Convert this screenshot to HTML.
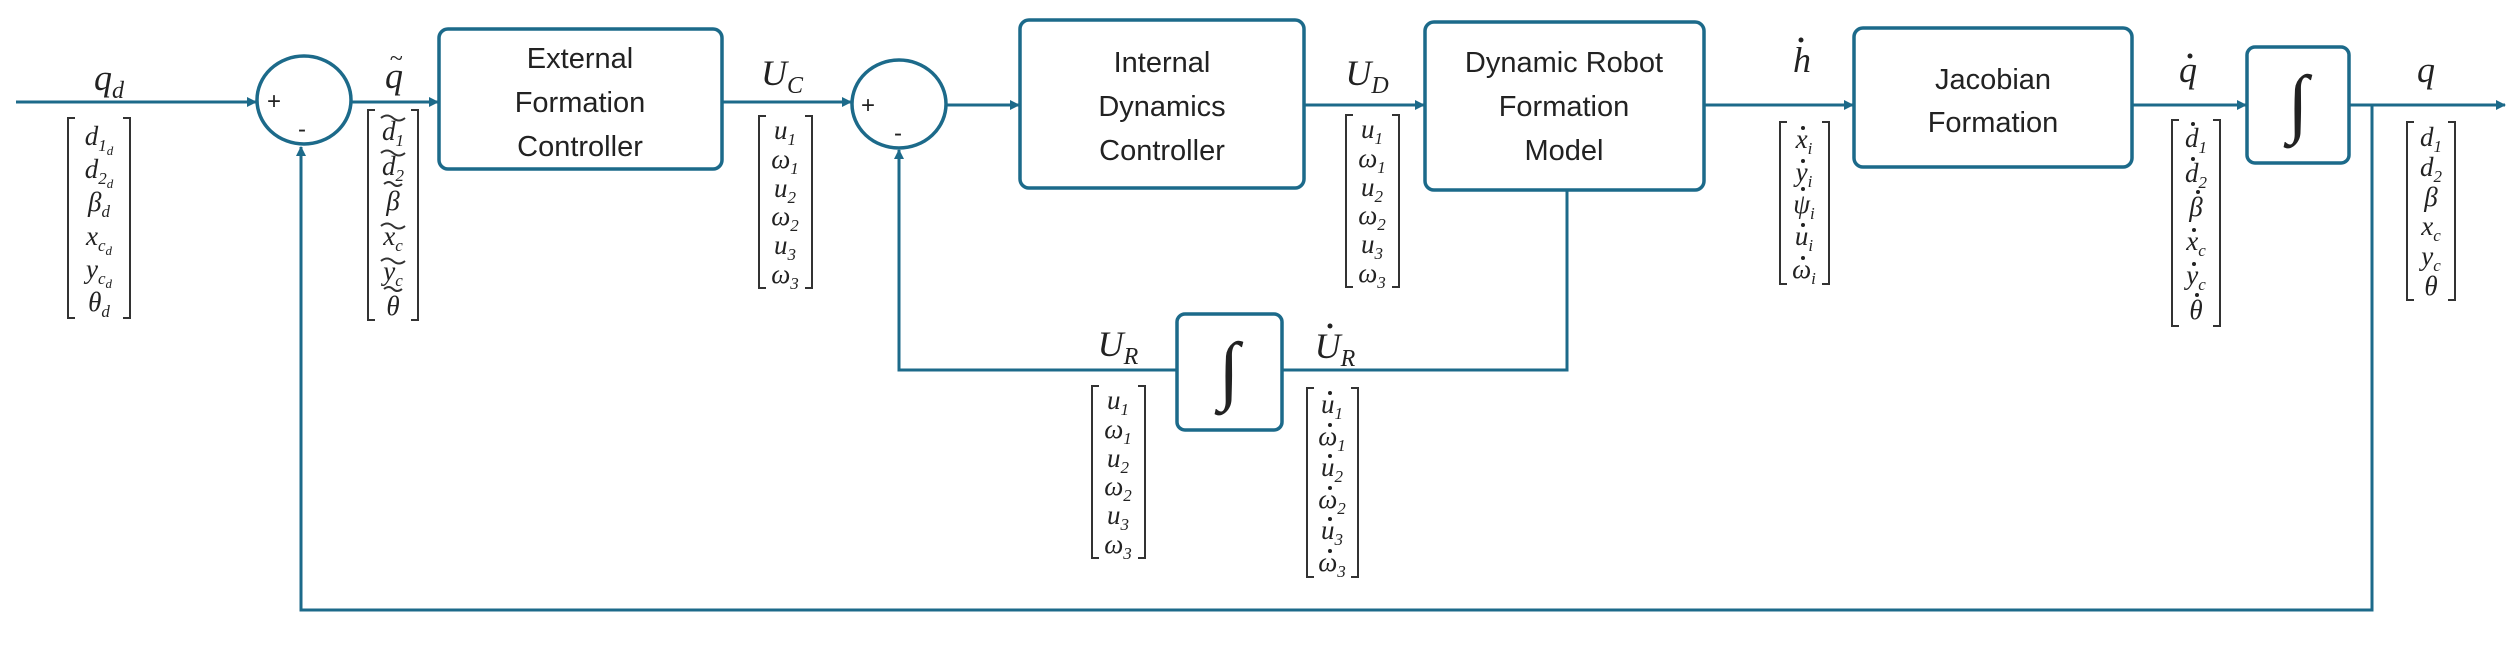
<!DOCTYPE html>
<html><head><meta charset="utf-8"><style>
html,body{margin:0;padding:0;background:#fff;}
svg{display:block;}
.m{font-family:"Liberation Serif","DejaVu Serif",serif;font-style:italic;font-size:27px;fill:#222;text-anchor:middle;}
.l{font-family:"Liberation Serif","DejaVu Serif",serif;font-style:italic;font-size:36px;fill:#222;text-anchor:middle;}
.b{font-family:"Liberation Sans","DejaVu Sans",sans-serif;font-size:29px;fill:#222;text-anchor:middle;}
.s{font-family:"Liberation Sans",sans-serif;font-size:24px;fill:#222;text-anchor:middle;}
.ln{stroke:#1c6a8a;stroke-width:3;fill:none;}
.bx{stroke:#1c6a8a;stroke-width:3.5;fill:#fff;}
.br{stroke:#333;stroke-width:2;fill:none;}
.d{fill:#222;}
</style></head><body>
<svg width="2515" height="653" viewBox="0 0 2515 653" xmlns="http://www.w3.org/2000/svg">
<defs><marker id="a" markerWidth="10" markerHeight="10" refX="9" refY="5" orient="auto" markerUnits="userSpaceOnUse"><path d="M0,0 L10,5 L0,10 z" fill="#1c6a8a"/></marker></defs>

<path class="ln" d="M16,102 H256" marker-end="url(#a)"/>
<path class="ln" d="M352,102 H438" marker-end="url(#a)"/>
<path class="ln" d="M722,102 H851" marker-end="url(#a)"/>
<path class="ln" d="M946,105 H1019" marker-end="url(#a)"/>
<path class="ln" d="M1304,105 H1424" marker-end="url(#a)"/>
<path class="ln" d="M1704,105 H1853" marker-end="url(#a)"/>
<path class="ln" d="M2132,105 H2246" marker-end="url(#a)"/>
<path class="ln" d="M2349,105 H2505" marker-end="url(#a)"/>
<path class="ln" d="M2372,105 V610 H301 V147" marker-end="url(#a)"/>
<path class="ln" d="M1567,190 V370 H1282"/>
<path class="ln" d="M1177,370 H899 V150" marker-end="url(#a)"/>

<ellipse class="bx" cx="304" cy="100" rx="47" ry="44"/>
<text class="s" x="274" y="109">+</text><text class="s" x="302" y="137">-</text>
<ellipse class="bx" cx="899" cy="104" rx="47" ry="44"/>
<text class="s" x="868" y="113">+</text><text class="s" x="898" y="141">-</text>

<rect class="bx" x="439" y="29" width="283" height="140" rx="9"/>
<text class="b" x="580" y="68">External</text><text class="b" x="580" y="112">Formation</text><text class="b" x="580" y="156">Controller</text>
<rect class="bx" x="1020" y="20" width="284" height="168" rx="9"/>
<text class="b" x="1162" y="72">Internal</text><text class="b" x="1162" y="116">Dynamics</text><text class="b" x="1162" y="160">Controller</text>
<rect class="bx" x="1425" y="22" width="279" height="168" rx="9"/>
<text class="b" x="1564" y="72">Dynamic Robot</text><text class="b" x="1564" y="116">Formation</text><text class="b" x="1564" y="160">Model</text>
<rect class="bx" x="1854" y="28" width="278" height="139" rx="9"/>
<text class="b" x="1993" y="89">Jacobian</text><text class="b" x="1993" y="132">Formation</text>
<rect class="bx" x="1177" y="314" width="105" height="116" rx="8"/>
<text class="l" x="1229" y="395" style="font-size:76px;font-style:normal">∫</text>
<rect class="bx" x="2247" y="47" width="102" height="116" rx="8"/>
<text class="l" x="2298" y="128" style="font-size:76px;font-style:normal">∫</text>

<text class="l" x="109" y="90">q<tspan font-size="24" dy="8">d</tspan></text>
<text class="l" x="394" y="88">q</text><text class="l" x="396" y="66" style="font-size:24px">~</text>
<text class="l" x="782" y="85">U<tspan font-size="24" dy="8">C</tspan></text>
<text class="l" x="1367" y="85">U<tspan font-size="24" dy="8">D</tspan></text>
<text class="l" x="1118" y="356">U<tspan font-size="24" dy="8">R</tspan></text>
<text class="l" x="1335" y="358">U<tspan font-size="24" dy="8">R</tspan></text><circle class="d" cx="1330" cy="326" r="2.5"/>
<text class="l" x="1802" y="72">h</text><circle class="d" cx="1801" cy="40" r="2.5"/>
<text class="l" x="2188" y="82">q</text><circle class="d" cx="2190" cy="56" r="2.5"/>
<text class="l" x="2426" y="82">q</text>

<g>
<path class="br" d="M75,118 H68 V318 H75 M123,118 H130 V318 H123"/>
<text class="m" x="99" y="145">d<tspan font-size="17" dy="6">1</tspan><tspan font-size="13" dy="4">d</tspan></text>
<text class="m" x="99" y="178">d<tspan font-size="17" dy="6">2</tspan><tspan font-size="13" dy="4">d</tspan></text>
<text class="m" x="99" y="211">β<tspan font-size="17" dy="6">d</tspan></text>
<text class="m" x="99" y="245">x<tspan font-size="17" dy="6">c</tspan><tspan font-size="13" dy="4">d</tspan></text>
<text class="m" x="99" y="278">y<tspan font-size="17" dy="6">c</tspan><tspan font-size="13" dy="4">d</tspan></text>
<text class="m" x="99" y="311">θ<tspan font-size="17" dy="6">d</tspan></text>
</g>
<g>
<path class="br" d="M375,110 H368 V320 H375 M411,110 H418 V320 H411"/>
<text class="m" x="393" y="140">d<tspan font-size="17" dy="6">1</tspan></text>
<text class="m" x="393" y="175">d<tspan font-size="17" dy="6">2</tspan></text>
<text class="m" x="393" y="210">β</text>
<text class="m" x="393" y="245">x<tspan font-size="17" dy="6">c</tspan></text>
<text class="m" x="393" y="280">y<tspan font-size="17" dy="6">c</tspan></text>
<text class="m" x="393" y="315">θ</text>
<path class="br" stroke-width="1.5" d="M381,118 q6,-5 12,0 t12,0 M381,153 q6,-5 12,0 t12,0 M384,184 q5,-4 9,0 t9,0 M381,226 q6,-5 12,0 t12,0 M381,261 q6,-5 12,0 t12,0 M384,289 q5,-4 9,0 t9,0"/>
</g>
<g id="u1">
<path class="br" d="M766,116 H759 V288 H766 M805,116 H812 V288 H805"/>
<text class="m" x="785" y="139">u<tspan font-size="17" dy="6">1</tspan></text>
<text class="m" x="785" y="168">ω<tspan font-size="17" dy="6">1</tspan></text>
<text class="m" x="785" y="197">u<tspan font-size="17" dy="6">2</tspan></text>
<text class="m" x="785" y="225">ω<tspan font-size="17" dy="6">2</tspan></text>
<text class="m" x="785" y="254">u<tspan font-size="17" dy="6">3</tspan></text>
<text class="m" x="785" y="283">ω<tspan font-size="17" dy="6">3</tspan></text>
</g>
<use href="#u1" x="587" y="-1"/>
<use href="#u1" x="333" y="270"/>
<g>
<path class="br" d="M1314,388 H1307 V577 H1314 M1351,388 H1358 V577 H1351"/>
<text class="m" x="1332" y="413">u<tspan font-size="17" dy="6">1</tspan></text>
<text class="m" x="1332" y="445">ω<tspan font-size="17" dy="6">1</tspan></text>
<text class="m" x="1332" y="476">u<tspan font-size="17" dy="6">2</tspan></text>
<text class="m" x="1332" y="508">ω<tspan font-size="17" dy="6">2</tspan></text>
<text class="m" x="1332" y="539">u<tspan font-size="17" dy="6">3</tspan></text>
<text class="m" x="1332" y="571">ω<tspan font-size="17" dy="6">3</tspan></text>
<circle class="d" cx="1330" cy="393" r="2"/><circle class="d" cx="1330" cy="425" r="2"/><circle class="d" cx="1330" cy="456" r="2"/>
<circle class="d" cx="1330" cy="488" r="2"/><circle class="d" cx="1330" cy="519" r="2"/><circle class="d" cx="1330" cy="551" r="2"/>
</g>
<g>
<path class="br" d="M1787,122 H1780 V284 H1787 M1822,122 H1829 V284 H1822"/>
<text class="m" x="1804" y="148">x<tspan font-size="17" dy="6">i</tspan></text>
<text class="m" x="1804" y="181">y<tspan font-size="17" dy="6">i</tspan></text>
<text class="m" x="1804" y="213">ψ<tspan font-size="17" dy="6">i</tspan></text>
<text class="m" x="1804" y="245">u<tspan font-size="17" dy="6">i</tspan></text>
<text class="m" x="1804" y="278">ω<tspan font-size="17" dy="6">i</tspan></text>
<circle class="d" cx="1803" cy="128" r="2"/><circle class="d" cx="1803" cy="161" r="2"/><circle class="d" cx="1803" cy="189" r="2"/>
<circle class="d" cx="1803" cy="225" r="2"/><circle class="d" cx="1803" cy="258" r="2"/>
</g>
<g>
<path class="br" d="M2179,120 H2172 V326 H2179 M2213,120 H2220 V326 H2213"/>
<text class="m" x="2196" y="147">d<tspan font-size="17" dy="6">1</tspan></text>
<text class="m" x="2196" y="182">d<tspan font-size="17" dy="6">2</tspan></text>
<text class="m" x="2196" y="216">β</text>
<text class="m" x="2196" y="250">x<tspan font-size="17" dy="6">c</tspan></text>
<text class="m" x="2196" y="284">y<tspan font-size="17" dy="6">c</tspan></text>
<text class="m" x="2196" y="319">θ</text>
<circle class="d" cx="2193" cy="124" r="2"/><circle class="d" cx="2193" cy="159" r="2"/><circle class="d" cx="2198" cy="192" r="2"/>
<circle class="d" cx="2194" cy="230" r="2"/><circle class="d" cx="2194" cy="264" r="2"/><circle class="d" cx="2197" cy="295" r="2"/>
</g>
<g>
<path class="br" d="M2414,122 H2407 V300 H2414 M2448,122 H2455 V300 H2448"/>
<text class="m" x="2431" y="146">d<tspan font-size="17" dy="6">1</tspan></text>
<text class="m" x="2431" y="176">d<tspan font-size="17" dy="6">2</tspan></text>
<text class="m" x="2431" y="206">β</text>
<text class="m" x="2431" y="235">x<tspan font-size="17" dy="6">c</tspan></text>
<text class="m" x="2431" y="265">y<tspan font-size="17" dy="6">c</tspan></text>
<text class="m" x="2431" y="295">θ</text>
</g>
</svg>
</body></html>
